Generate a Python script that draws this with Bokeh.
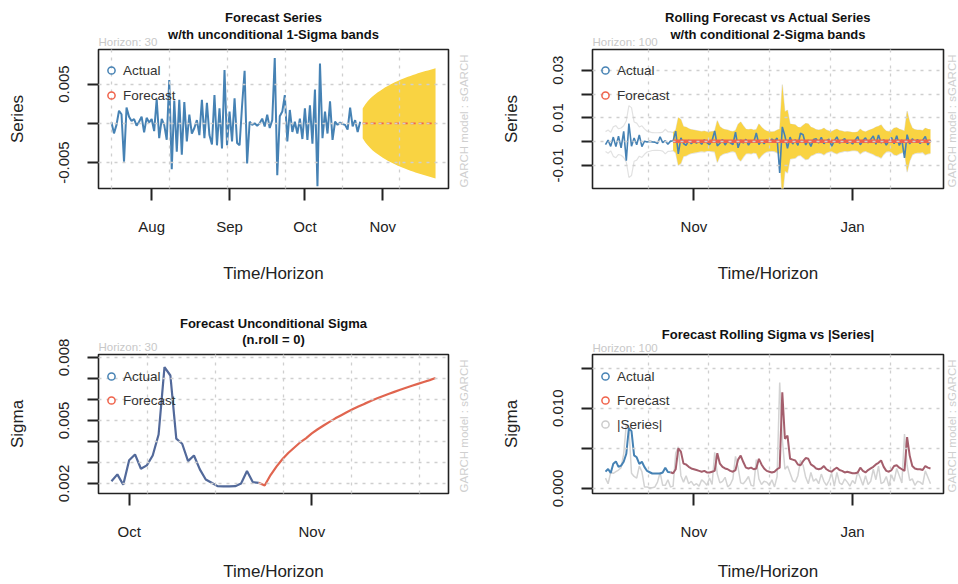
import numpy as np
from bokeh.plotting import figure
from bokeh.layouts import column, row
from bokeh.models import Range1d, FixedTicker, Legend, LegendItem, Title, Label
from bokeh.embed import file_html
from bokeh.resources import INLINE

FONT = "Liberation Sans"

# ---------------- data (x = day number, day 0 = 16 Jul) ----------------
# in-sample series (days 0..99), units of 1e-3
series_in_e3 = [0.13, -1.28, -0.2, 1.6, 1.15, -4.9, 2.0, 0.85, 0.3, 0.55,
                -0.3, 0.2, 0.85, -1.15, 0.7, 0.1, 0.55, -1.0, 3.1, -1.9,
                0.55, -0.2, -2.1, 5.5, -5.85, 2.9, -3.6, 3.0, -4.0, 2.7,
                -2.3, 1.1, -1.3, -0.6, 0.4, -1.5, 3.0, -1.9, 2.6, -1.5,
                -2.7, 3.6, -2.8, 1.9, -3.2, 6.8, -2.8, 1.5, -2.3, 3.2,
                -2.5, -2.8, 2.3, 6.7, -5.1, 0.2, -0.2, 0.0, -0.3, 0.0,
                0.6, -0.4, 1.1, -0.6, 0.4, 8.3, -6.6, 0.9, 1.5, 3.6,
                -2.3, 1.7, -1.1, 0.2, -1.3, 0.6, -2.0, 1.9, -2.1, 2.3,
                -2.6, 4.3, -8.0, 7.6, -1.9, 1.5, -1.3, 2.8, -2.1, 0.2,
                -0.2, 0.1, -0.1, -0.2, -0.8, 2.0, -0.4, 0.4, -1.1, 0.2]
# out-of-sample series used by the rolling forecast (days 100..199), units of 1e-3
series_roll_e3 = [0.3, 4.4, -5.2, 1.6, -0.8, -1.6, 0.6, -0.9, 0.4, -0.6,
                  0.3, -1.1, 0.8, -0.4, -1.3, 0.5, 4.5, -1.8, -0.7, 0.9,
                  -1.4, 0.2, -0.5, -1.2, 4.0, -2.6, 0.7, -0.6, 1.0, -1.5,
                  0.4, -0.3, 3.6, -1.2, 0.5, -0.9, 0.8, -0.4, 1.1, 0.2,
                  1.5, -13.2, 6.2, 2.4, -2.8, 1.9, -1.0, 0.8, -1.6, 3.5,
                  2.9, -1.4, 0.6, -2.0, 0.9, 1.2, -0.6, 1.8, -0.9, 0.4,
                  1.0, -1.9, 0.3, 2.0, -0.7, 0.5, 1.2, -0.8, 0.3, -1.0,
                  0.6, 2.1, -1.3, 0.4, 1.6, -0.5, 0.9, 2.4, -1.1, 2.8,
                  -0.6, 0.8, -1.5, 0.3, 1.7, -0.9, 2.5, -1.6, 0.7, -6.8,
                  2.9, -1.0, 1.2, -0.4, 0.9, -0.8, 0.5, 2.2, -1.4, 0.6]
# fitted sigma, last 26 in-sample days (days 74..99), units of 1e-3
sigma_in_e3 = [2.10, 2.43, 1.94, 3.10, 3.38, 2.70, 2.86, 3.33, 4.33, 7.54,
               7.14, 4.13, 3.89, 3.06, 3.33, 2.67, 2.19, 2.03, 1.87, 1.86,
               1.86, 1.87, 2.00, 2.59, 2.06, 2.03]
# n-ahead sigma forecast (days 100..129), units of 1e-3
sigma_fc_e3 = [1.90, 2.40, 2.80, 3.15, 3.45, 3.70, 3.95, 4.15, 4.38, 4.58,
               4.76, 4.93, 5.10, 5.25, 5.40, 5.54, 5.67, 5.80, 5.92, 6.04,
               6.15, 6.26, 6.36, 6.46, 6.56, 6.65, 6.74, 6.83, 6.92, 7.02]
# rolling 1-ahead sigma forecast (days 100..199), units of 1e-3
sigma_roll_e3 = [1.9, 2.4, 5.0, 4.6, 3.1, 3.0, 2.7, 2.5, 2.4, 2.3,
                 2.2, 2.1, 2.2, 2.0, 2.0, 2.1, 2.2, 4.4, 3.1, 2.7,
                 2.5, 2.4, 2.2, 2.1, 2.3, 3.6, 4.1, 3.3, 2.6, 2.5,
                 2.6, 2.4, 2.5, 3.7, 3.0, 2.5, 2.2, 2.1, 2.0, 2.1,
                 2.4, 2.6, 12.0, 6.2, 6.6, 3.7, 3.6, 3.5, 3.0, 2.9,
                 3.4, 3.8, 3.7, 3.0, 2.8, 2.5, 2.4, 2.5, 2.8, 2.4,
                 2.2, 2.1, 2.4, 2.6, 2.3, 2.2, 2.0, 2.1, 2.0, 1.9,
                 1.9, 2.0, 2.6, 2.2, 2.0, 2.3, 2.5, 2.7, 3.0, 3.2,
                 3.5, 2.7, 2.2, 2.1, 2.3, 2.8, 2.9, 2.6, 2.4, 2.2,
                 6.4, 4.1, 2.8, 2.5, 2.4, 2.4, 2.3, 2.8, 2.6, 2.5]
mean_fc = [0.0] * 30        # constant-mean model forecast
mean_roll = [0.0001] * 100  # constant-mean rolling forecast

days_in = np.arange(0, 100)
days_fc = np.arange(100, 130)
days_roll = np.arange(100, 200)
days_sig_in = np.arange(74, 100)

month_ticks_a = [16, 47, 77, 108]
month_names_a = ["Aug", "Sep", "Oct", "Nov"]
month_ticks_b = [77, 108]
month_names_b = ["Oct", "Nov"]
month_ticks_c = [108, 169]
month_names_c = ["Nov", "Jan"]

yticks_1 = [-0.005, 0.0, 0.005]
ylabels_1 = ["-0.005", "", "0.005"]
yticks_2 = [-0.01, 0.0, 0.01, 0.02, 0.03]
ylabels_2 = ["-0.01", "", "0.01", "", "0.03"]
yticks_3 = [0.002, 0.003, 0.004, 0.005, 0.006, 0.007, 0.008]
ylabels_3 = ["0.002", "", "", "0.005", "", "", "0.008"]
yticks_4 = [0.0, 0.005, 0.01, 0.015]
ylabels_4 = ["0.000", "", "0.010", ""]

grid_1 = [0.0, 23.0, 46.1, 69.1, 92.1, 114.8]
grid_3 = [80.07, 91.66, 103.25, 114.74, 126.33]
grid_24 = [90.65, 113.7, 137.2, 160.5, 183.6]

series_in = np.array(series_in_e3) * 1e-3
series_roll = np.array(series_roll_e3) * 1e-3
sigma_in = np.array(sigma_in_e3) * 1e-3
sigma_fc = np.array(sigma_fc_e3) * 1e-3
sigma_roll = np.array(sigma_roll_e3) * 1e-3
mean_fc = np.array(mean_fc)
mean_roll = np.array(mean_roll)

days_all = np.concatenate([days_sig_in, days_roll])
series_all = np.concatenate([series_in[74:], series_roll])
sigma_all = np.concatenate([sigma_in, sigma_roll])

STEEL = "#4682B4"
TOMATO = "#F0624A"
YELLOW = "#F9D342"
TXT = "#222222"
SIDE = "#CFCFCF"

H = 292


def frame(width, left, top, w, h, xr, yr):
    return dict(width=width, left=left, top=top, w=w, h=h, xr=xr, yr=yr)


F1 = frame(450, 98, 49, 350, 139, (-5.16, 134.16), (-0.0083, 0.0094))
F2 = frame(466, 113, 49, 351, 139, (69.0, 204.0), (-0.0197, 0.0387))
F3 = frame(450, 98, 62, 350, 139, (71.8, 131.2), (0.00152, 0.00814))
F4 = frame(466, 113, 61, 351, 140, (69.0, 204.0), (-0.00062, 0.0167))


def make_fig(fr, xticks, xnames, yticks, ynames, gridx, ylabel, x_label_standoff):
    p = figure(width=fr["width"], height=H, x_range=Range1d(*fr["xr"]), y_range=Range1d(*fr["yr"]),
               output_backend="svg", toolbar_location=None, tools="",
               min_border_left=fr["left"], min_border_right=fr["width"] - fr["left"] - fr["w"],
               min_border_top=fr["top"], min_border_bottom=H - fr["top"] - fr["h"])
    p.outline_line_color = "#222222"
    p.outline_line_width = 1.6
    p.outline_line_alpha = 1.0
    p.background_fill_color = "white"
    p.border_fill_color = "white"
    xa = p.xaxis[0]
    ya = p.yaxis[0]
    xa.ticker = FixedTicker(ticks=xticks)
    xa.major_label_overrides = dict(zip(xticks, xnames))
    ya.ticker = FixedTicker(ticks=yticks)
    ya.major_label_overrides = dict(zip(yticks, ynames))
    for ax in (xa, ya):
        ax.axis_line_color = None
        ax.major_tick_in = 0
        ax.minor_tick_line_color = None
        ax.major_tick_line_color = TXT
        ax.major_tick_line_width = 2
        ax.major_label_text_font = FONT
        ax.major_label_text_font_size = "15px"
        ax.major_label_text_color = TXT
        ax.axis_label_text_font = FONT
        ax.axis_label_text_font_size = "17px"
        ax.axis_label_text_font_style = "normal"
        ax.axis_label_text_color = TXT
    xa.major_tick_out = 12
    xa.major_label_standoff = 17
    xa.axis_label_standoff = x_label_standoff
    xa.axis_label = "Time/Horizon"
    ya.major_tick_out = 11
    ya.major_label_standoff = 18
    ya.axis_label_standoff = 30
    ya.axis_label = ylabel
    ya.major_label_orientation = "vertical"
    p.xgrid[0].ticker = FixedTicker(ticks=gridx)
    p.ygrid[0].ticker = FixedTicker(ticks=yticks)
    for g in (p.xgrid[0], p.ygrid[0]):
        g.grid_line_color = "#CFCFCF"
        g.grid_line_dash = "3 5"
        g.grid_line_width = 1.3
        g.level = "guide"
    return p


def add_legend(p, entries, vy, spacing):
    items = []
    for name, color in entries:
        r = p.scatter(x=[np.nan], y=[np.nan], marker="circle", size=7, fill_color=None,
                      line_color=color, line_width=1.5)
        items.append(LegendItem(label=name, renderers=[r]))
    lg = Legend(items=items, location=(0, vy), margin=0, padding=4, spacing=spacing,
                glyph_width=18, glyph_height=18, label_height=18, label_standoff=3,
                border_line_alpha=0, background_fill_alpha=0,
                label_text_font=FONT, label_text_font_size="13.5px", label_text_color="#333333")
    p.add_layout(lg)


def title_obj(text, standoff, align="center", size="13px", style="bold", color="#111111"):
    return Title(text=text, align=align, text_font=FONT, text_font_size=size,
                 text_font_style=style, text_color=color, standoff=standoff)


def decorate(p, line1, s1, line2, s2, horizon, sh):
    # nearest the box: the horizon note
    p.add_layout(title_obj(horizon, sh, align="left", size="11.5px", style="normal",
                           color="#C8C8C8"), "above")
    if line2 is not None:
        p.add_layout(title_obj(line2, s2), "above")
    # outermost: first title line
    p.title.text = line1
    p.title.align = "center"
    p.title.text_font = FONT
    p.title.text_font_size = "13px"
    p.title.text_font_style = "bold"
    p.title.text_color = "#111111"
    p.title.standoff = s1


def side_fig(fr, width, text_x):
    # narrow strip right of a panel (same vertical frame) carrying the vertical model note
    y0, y1 = fr["yr"]
    s = figure(width=width, height=H, x_range=Range1d(0, width), y_range=Range1d(y0, y1),
               output_backend="svg", toolbar_location=None, tools="",
               x_axis_type=None, y_axis_type=None,
               min_border_left=0, min_border_right=0,
               min_border_top=fr["top"], min_border_bottom=H - fr["top"] - fr["h"])
    s.outline_line_color = None
    s.grid.visible = False
    s.add_layout(Label(x=text_x, y=y0 + 0.008 * (y1 - y0), text="GARCH model : sGARCH",
                       angle=np.pi / 2, text_align="left", text_baseline="middle",
                       text_font=FONT, text_font_size="11.5px", text_color=SIDE))
    return s


# ---------------- panel 1 ----------------
p1 = make_fig(F1, month_ticks_a, month_names_a, yticks_1, ylabels_1, grid_1, "Series", 26)
p1.varea(x=days_fc, y1=mean_fc - sigma_fc, y2=mean_fc + sigma_fc, fill_color=YELLOW)
p1.line(days_in, series_in, line_color=STEEL, line_width=2)
p1.line(days_fc, mean_fc, line_color=TOMATO, line_width=1.8, line_dash="5 3")
add_legend(p1, [("Actual", STEEL), ("Forecast", TOMATO)], 80, 7)
decorate(p1, "Forecast Series", 15.3, "w/th unconditional 1-Sigma bands", -16.5, "Horizon: 30", 2.2)

# ---------------- panel 2 ----------------
p2 = make_fig(F2, month_ticks_c, month_names_c, yticks_2, ylabels_2, grid_24, "Series", 26)
p2.line(days_all, 2 * sigma_all, line_color="#E2E2E2", line_width=1.2)
p2.line(days_all, -2 * sigma_all, line_color="#E2E2E2", line_width=1.2)
p2.varea(x=days_roll, y1=mean_roll - 2 * sigma_roll, y2=mean_roll + 2 * sigma_roll, fill_color=YELLOW)
p2.line(days_all, series_all, line_color=STEEL, line_width=1.6)
p2.line(days_roll, mean_roll, line_color=TOMATO, line_width=3.5)
add_legend(p2, [("Actual", STEEL), ("Forecast", TOMATO)], 80, 7)
decorate(p2, "Rolling Forecast vs Actual Series", 15.3, "w/th conditional 2-Sigma bands", -16.5,
         "Horizon: 100", 2.2)

# ---------------- panel 3 ----------------
p3 = make_fig(F3, month_ticks_b, month_names_b, yticks_3, ylabels_3, grid_3, "Sigma", 19)
p3.line(days_sig_in, sigma_in, line_color="#52699A", line_width=2.2)
p3.line(np.concatenate([days_sig_in[-1:], days_fc]), np.concatenate([sigma_in[-1:], sigma_fc]),
        line_color="#E0654F", line_width=2.2)
add_legend(p3, [("Actual", STEEL), ("Forecast", TOMATO)], 80, 6)
decorate(p3, "Forecast Unconditional Sigma", 13.3, "(n.roll = 0)", -16.5, "Horizon: 30", 2.2)

# ---------------- panel 4 ----------------
p4 = make_fig(F4, month_ticks_c, month_names_c, yticks_4, ylabels_4, grid_24, "Sigma", 19)
p4.line(days_all, np.abs(series_all), line_color="#D3D3D3", line_width=1.5)
p4.line(days_sig_in, sigma_in, line_color=STEEL, line_width=2)
p4.line(np.concatenate([days_sig_in[-1:], days_roll]), np.concatenate([sigma_in[-1:], sigma_roll]),
        line_color="#A45E6C", line_width=2)
add_legend(p4, [("Actual", STEEL), ("Forecast", TOMATO), ("|Series|", "#CCCCCC")], 56, 6)
decorate(p4, "Forecast Rolling Sigma vs |Series|", -4.5, None, 0, "Horizon: 100", 1.2)

s1 = side_fig(F1, 29, 13)
s2 = side_fig(F2, 13, 6.5)
s3 = side_fig(F3, 29, 13)
s4 = side_fig(F4, 13, 6.5)

layout = column(row(p1, s1, p2, s2), row(p3, s3, p4, s4))
open("out.html", "w").write(file_html(layout, INLINE))
